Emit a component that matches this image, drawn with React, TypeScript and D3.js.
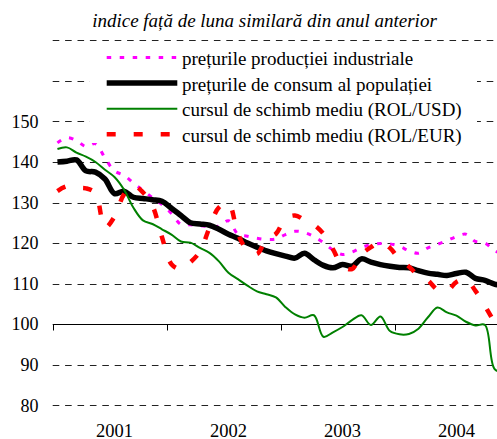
import * as d3 from "d3";

// monthly index, same month of the previous year = 100
const years = ["2001", "2002", "2003", "2004"];
const months = years.flatMap((yr) =>
  d3.range(1, 13).map((m) => `${yr}-${String(m).padStart(2, "0")}`),
);

const industrialPrices = [
  144.7, 146, 145.3, 143.8, 144.5, 141, 137.8, 136.7, 134.8, 133, 131.2, 129.5,
  127.3, 124.6, 124.5, 124.3, 124.1, 124.2, 125.5, 122.2, 121.7, 121.2, 120.9, 121.0,
  122.1, 122.9, 122.6, 121.6, 120.1, 118.3, 117.2, 117.8, 118.9, 119.6, 119.9, 119.8,
  119.2, 118.1, 117.5, 118.8, 119.7, 120.6, 121.6, 122.2, 120.4, 120.0, 118.2, 117.0,
];

const consumerPrices = [
  140, 140.2, 140.5, 137.8, 137.5, 135.8, 132.2, 132.8, 131.3, 131, 130.7, 130.3,
  128.6, 126.8, 125, 124.7, 124.4, 123.4, 122.2, 121.2, 120, 119, 118.1, 117.4,
  116.8, 116.3, 117.5, 115.9, 114.5, 113.9, 114.7, 114.3, 116.1, 115.3, 114.7, 114.3,
  114.0, 113.9, 113.2, 112.6, 112.3, 112.0, 112.5, 112.8, 111.3, 110.8, 109.9, 109.4,
];

const rolUsd = [
  143.2, 143.6, 142.3, 141.3, 140, 138.1, 136.3, 133.2, 128.7, 125.6, 124.7, 123.4,
  122.1, 120.4, 120.1, 118.8, 117.6, 115.5, 112.7, 111.1, 109.5, 108.1, 107.4, 106.6,
  104.2, 102.4, 101.6, 102.2, 96.9, 98, 99.3, 101, 102.2, 99.8, 101.9, 98.3,
  97.5, 97.6, 98.9, 101.7, 104.1, 102.9, 102.1, 100.6, 99.7, 99.8, 89, 88,
];

const rolEur = [
  132.8, 134, 133.6, 133.5, 132.3, 123.8, 126.5, 132, 134.2, 132.5, 129.2, 121.5,
  114.8, 113.6, 115.3, 117.9, 123.8, 128.8, 129.8, 122.3, 118.2, 117.3, 121, 122.3,
  126, 126.8, 125.7, 124.5, 122.3, 118.5, 114.3, 113.6, 117.2, 119, 120.3, 118.8,
  116, 114.2, 112, 110.8, 108.5, 108.2, 110.4, 111, 108.2, 104.5, 100.5, 97,
];

const gridValues = [80, 90, 110, 120, 130, 140, 150, 160, 170];
const yLabels = [80, 90, 100, 110, 120, 130, 140, 150];

const title = "indice față de luna similară din anul anterior";

const series = [
  { name: "prețurile producției industriale", values: industrialPrices, color: "#ff00ff", width: 3, dash: "4.5 8.5" },
  { name: "prețurile de consum al populației", values: consumerPrices, color: "#000000", width: 5.5, dash: undefined },
  { name: "cursul de schimb mediu (ROL/USD)", values: rolUsd, color: "#008000", width: 2, dash: undefined },
  { name: "cursul de schimb mediu (ROL/EUR)", values: rolEur, color: "#ff0000", width: 4.5, dash: "9 18" },
];

const FONT = "Liberation Serif";

const width = 497;
const height = 439;
const left = 52.7;
const right = left + 9.5 * months.length;

const x = d3.scaleBand().domain(months).range([left, right]).padding(0);
const y = d3.scaleLinear().domain([80, 170]).range([405.3, 40.3]);
const bw = x.bandwidth();

const line = d3
  .line<number>()
  .x((_, i) => x(months[i])! + bw / 2)
  .y((d) => y(d))
  .curve(d3.curveCatmullRom.alpha(0.5));

export default function App() {
  const axisY = Math.round(y(100)) + 0.5;
  return (
    <div style={{ position: "absolute", left: 0, top: 0, width, height, overflow: "hidden" }}>
      <svg width={width} height={height} style={{ display: "block", fontFamily: FONT }}>
        <rect width={width} height={height} fill="#fff" />

        {/* dashed gridlines */}
        {gridValues.map((v) => (
          <line
            key={v}
            x1={left}
            x2={right}
            y1={Math.round(y(v)) + 0.5}
            y2={Math.round(y(v)) + 0.5}
            stroke="#222"
            strokeWidth={1}
            strokeDasharray="6.6 5.8"
          />
        ))}

        {yLabels.map((v) => (
          <text key={v} x={38.5} y={y(v)} dy="0.35em" textAnchor="end" style={{ fontFamily: FONT, fontSize: 18 }}>
            {v}
          </text>
        ))}

        {/* category axis at 100 */}
        <line x1={left} x2={right} y1={axisY} y2={axisY} stroke="#000" strokeWidth={1} />
        {years.map((yr) => {
          const tx = Math.round(x(`${yr}-01`)!) + 0.5;
          return <line key={yr} x1={tx} x2={tx} y1={axisY} y2={axisY + 6} stroke="#000" />;
        })}
        {years.map((yr) => (
          <text
            key={yr}
            x={x(`${yr}-07`)! + bw / 2}
            y={436.5}
            textAnchor="middle"
            style={{ fontFamily: FONT, fontSize: 18.5 }}
          >
            {yr}
          </text>
        ))}

        {series.map((s) => (
          <path
            key={s.name}
            d={line(s.values) ?? ""}
            fill="none"
            stroke={s.color}
            strokeWidth={s.width}
            strokeDasharray={s.dash}
            strokeLinejoin="round"
          />
        ))}

        {/* legend */}
        <rect x={90} y={47} width={387} height={96} fill="#fff" />
        {series.map((s, i) => {
          const by = 65 + i * 25.6;
          return (
            <g key={s.name}>
              <line
                x1={106.7}
                x2={177.3}
                y1={by - 7.5}
                y2={by - 7.5}
                stroke={s.color}
                strokeWidth={s.width}
                strokeDasharray={s.dash}
              />
              <text x={182} y={by} style={{ fontFamily: FONT, fontSize: 19 }}>
                {s.name}
              </text>
            </g>
          );
        })}

        <text
          x={264.5}
          y={27}
          textAnchor="middle"
          style={{ fontFamily: FONT, fontStyle: "italic", fontSize: 19 }}
        >
          {title}
        </text>
      </svg>
    </div>
  );
}
